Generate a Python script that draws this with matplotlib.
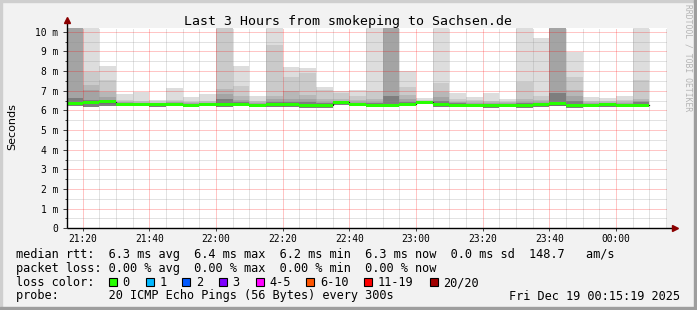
import matplotlib
matplotlib.use("Agg")
import matplotlib.pyplot as plt
import matplotlib.dates as mdates
from matplotlib.patches import Rectangle
from matplotlib.ticker import FuncFormatter, MultipleLocator
from datetime import datetime, timedelta

W, H, DPI = 697, 310, 100
MONO = "DejaVu Sans Mono"

# ---- data ------------------------------------------------------------------
t_begin = datetime(2025, 12, 18, 21, 15, 19)
t_end = datetime(2025, 12, 19, 0, 15, 19)
first_bar = datetime(2025, 12, 18, 21, 15)
n_bars = 35

# smoke layers in ms: outer (lightest) -> inner (darkest) tops, per 5-min step
smoke_lo = [6.20, 6.15, 6.20, 6.20, 6.20, 6.15, 6.20, 6.20, 6.20, 6.18,
            6.20, 6.20, 6.18, 6.18, 6.10, 6.10, 6.25, 6.20, 6.18, 6.15,
            6.20, 6.30, 6.18, 6.15, 6.18, 6.10, 6.15, 6.10, 6.18, 6.20,
            6.10, 6.18, 6.18, 6.15, 6.15]
smoke_t1 = [10.5, 10.5, 8.27, 6.83, 6.91, 6.54, 7.13, 6.69, 6.83, 10.5,
            8.24, 6.74, 10.5, 8.22, 8.13, 7.20, 7.00, 7.03, 10.5, 10.5,
            8.00, 6.64, 10.5, 6.86, 6.70, 6.86, 6.57, 10.5, 9.67, 10.5,
            8.99, 6.70, 6.64, 6.74, 10.5]
smoke_t2 = [10.5, 7.93, 7.56, 6.55, 6.50, 6.42, 6.55, 6.45, 6.50, 10.5,
            7.25, 6.50, 9.30, 7.71, 7.88, 7.03, 6.86, 6.75, 7.00, 10.5,
            7.20, 6.55, 7.37, 6.60, 6.55, 6.50, 6.45, 7.46, 6.74, 10.5,
            7.71, 6.50, 6.50, 6.55, 7.54]
smoke_t3 = [10.5, 7.30, 6.95, 6.45, 6.40, 6.37, 6.45, 6.40, 6.42, 7.08,
            6.75, 6.40, 6.74, 7.00, 6.80, 6.60, 6.60, 6.55, 6.60, 10.5,
            6.80, 6.50, 6.91, 6.45, 6.42, 6.40, 6.40, 6.60, 6.55, 10.5,
            7.03, 6.42, 6.40, 6.45, 6.60]
smoke_t4 = [10.5, 7.05, 6.70, 6.40, 6.36, 6.34, 6.40, 6.35, 6.38, 6.82,
            6.55, 6.35, 6.60, 6.60, 6.60, 6.45, 6.50, 6.45, 6.45, 10.5,
            6.60, 6.47, 6.70, 6.40, 6.38, 6.35, 6.36, 6.45, 6.45, 10.5,
            6.75, 6.38, 6.36, 6.38, 6.50]
smoke_t5 = [6.62, 6.55, 6.52, 6.35, 6.33, 6.32, 6.35, 6.32, 6.35, 6.60,
            6.40, 6.30, 6.45, 6.45, 6.40, 6.35, 6.46, 6.38, 6.38, 6.74,
            6.45, 6.45, 6.50, 6.35, 6.33, 6.30, 6.33, 6.36, 6.38, 6.86,
            6.50, 6.33, 6.33, 6.32, 6.40]
median = [6.37, 6.40, 6.45, 6.30, 6.30, 6.30, 6.30, 6.27, 6.30, 6.30,
          6.30, 6.27, 6.30, 6.30, 6.27, 6.27, 6.42, 6.30, 6.27, 6.27,
          6.30, 6.42, 6.30, 6.27, 6.27, 6.27, 6.27, 6.27, 6.30, 6.33,
          6.27, 6.27, 6.30, 6.27, 6.27]

smoke_layers = [smoke_t1, smoke_t2, smoke_t3, smoke_t4, smoke_t5]
smoke_colors = ["#dddddd", "#cacaca", "#b7b7b7", "#a4a4a4", "#7e7e7e"]

loss_labels = ["0", "1", "2", "3", "4-5", "6-10", "11-19", "20/20"]
loss_colors = ["#26ff00", "#00b8ff", "#0059ff", "#7e00ff", "#ff00ff",
               "#ff5500", "#ff0000", "#a10000"]

title = "Last 3 Hours from smokeping to Sachsen.de"
row_rtt = "median rtt:  6.3 ms avg  6.4 ms max  6.2 ms min  6.3 ms now  0.0 ms sd  148.7   am/s"
row_loss = "packet loss: 0.00 % avg  0.00 % max  0.00 % min  0.00 % now"
probe_txt = "probe:       20 ICMP Echo Pings (56 Bytes) every 300s"
stamp = "Fri Dec 19 00:15:19 2025"

# ---- figure ----------------------------------------------------------------
fig = plt.figure(figsize=(W / DPI, H / DPI), dpi=DPI, facecolor="#f2f2f2")


def fx(x):
    return x / W


def fy(y):
    return 1 - y / H


# plot area: x 67..667, y 28..228 (pixels)
ax = fig.add_axes([fx(67), fy(228.3), fx(667) - fx(67), fy(28) - fy(228.3)])
ax.set_facecolor("white")

step = timedelta(minutes=5)
lefts = [first_bar + i * step for i in range(n_bars)]
width = 5 / 1440

for layer, col in zip(smoke_layers, smoke_colors):
    ax.bar(lefts, [t - lo for t, lo in zip(layer, smoke_lo)], bottom=smoke_lo,
           width=width, align="edge", color=col, linewidth=0, zorder=1)

# median with loss colour band
edges = lefts + [lefts[-1] + step]
med_ext = median + [median[-1]]
ax.step(edges, med_ext, where="post", color="#202020", lw=0.9, zorder=3)
ax.fill_between(edges, [m - 0.075 for m in med_ext], [m + 0.075 for m in med_ext],
                step="post", color=loss_colors[0], linewidth=0, zorder=4)

ax.set_xlim(t_begin, t_end)
ax.set_ylim(0, 10.19)

ax.xaxis.set_major_locator(mdates.MinuteLocator(byminute=[0, 20, 40]))
ax.xaxis.set_minor_locator(mdates.MinuteLocator(byminute=range(0, 60, 5)))
ax.xaxis.set_major_formatter(mdates.DateFormatter("%H:%M"))
ax.yaxis.set_major_locator(MultipleLocator(1))
ax.yaxis.set_minor_locator(MultipleLocator(0.5))
ax.yaxis.set_major_formatter(FuncFormatter(lambda v, p: "0" if v == 0 else f"{v:.0f} m"))

dots = (0, (1, 1))
ax.grid(True, which="minor", color="#8f8f8f", alpha=0.5, lw=0.72, ls=dots, zorder=2)
ax.grid(True, which="major", color="#ff0000", alpha=0.45, lw=0.72, ls=dots, zorder=2)
ax.set_axisbelow(False)

for s in ax.spines.values():
    s.set_visible(False)

ax.tick_params(axis="both", which="both", colors="#404040", width=0.7,
               labelcolor="black", labelsize=6.9)
ax.tick_params(axis="y", which="major", direction="out", length=3, pad=3.2)
ax.tick_params(axis="y", which="minor", direction="out", length=1.5)
ax.tick_params(axis="x", which="major", direction="out", length=2, pad=2.0)
ax.tick_params(axis="x", which="minor", length=0)
for lab in ax.get_xticklabels() + ax.get_yticklabels():
    lab.set_family(MONO)

# axis lines with arrows
ax.plot([0, 1.0 + 5 / 600], [0, 0], transform=ax.transAxes, color="black",
        lw=1.0, clip_on=False, zorder=5, solid_capstyle="butt")
ax.plot([0, 0], [0, 1.0 + 5 / 200], transform=ax.transAxes, color="black",
        lw=1.0, clip_on=False, zorder=5, solid_capstyle="butt")
ax.plot([1.0 + 8 / 600], [0], marker=">", ms=4.5, color="#8b0000",
        transform=ax.transAxes, clip_on=False, zorder=6)
ax.plot([0], [1.0 + 8 / 200], marker="^", ms=4.5, color="#8b0000",
        transform=ax.transAxes, clip_on=False, zorder=6)

# ---- texts ------------------------------------------------------------------
fig.text(fx(348), fy(24.5), title, family=MONO, fontsize=9.55, ha="center", va="baseline")
fig.text(fx(12), fy(127), "Seconds", family="DejaVu Sans", fontsize=8, rotation=90,
         ha="center", va="center")
fig.text(fx(688), fy(4), "RRDTOOL / TOBI OETIKER", family=MONO, fontsize=5.8,
         color="#b4b4b4", rotation=270, ha="center", va="top")

fs = 8.53
fig.text(fx(16), fy(258), row_rtt, family=MONO, fontsize=fs, va="baseline")
fig.text(fx(16), fy(272), row_loss, family=MONO, fontsize=fs, va="baseline")
fig.text(fx(16), fy(286), "loss color:", family=MONO, fontsize=fs, va="baseline")
fig.text(fx(16), fy(299.5), probe_txt, family=MONO, fontsize=fs, va="baseline")
fig.text(fx(680), fy(299.5), stamp, family=MONO, fontsize=fs, va="baseline", ha="right")

char_w = 7.13
bx = 109
for lab, col in zip(loss_labels, loss_colors):
    fig.patches.append(Rectangle((fx(bx), fy(286)), fx(8), 8 / H, facecolor=col,
                                 edgecolor="black", lw=0.8, transform=fig.transFigure))
    fig.text(fx(bx + 13.5), fy(286), lab, family=MONO, fontsize=fs, va="baseline")
    bx += 13.5 + len(lab) * char_w + 16

# 3D frame of the canvas
fig.patches.append(Rectangle((0, fy(2)), 1, 2 / H, color="#cfcfcf", transform=fig.transFigure))
fig.patches.append(Rectangle((0, 0), fx(2), 1, color="#cfcfcf", transform=fig.transFigure))
fig.patches.append(Rectangle((0, 0), 1, 3 / H, color="#9e9e9e", transform=fig.transFigure))
fig.patches.append(Rectangle((fx(694), 0), fx(3), 1, color="#9e9e9e", transform=fig.transFigure))

fig.savefig("out.png", dpi=DPI, facecolor=fig.get_facecolor())
